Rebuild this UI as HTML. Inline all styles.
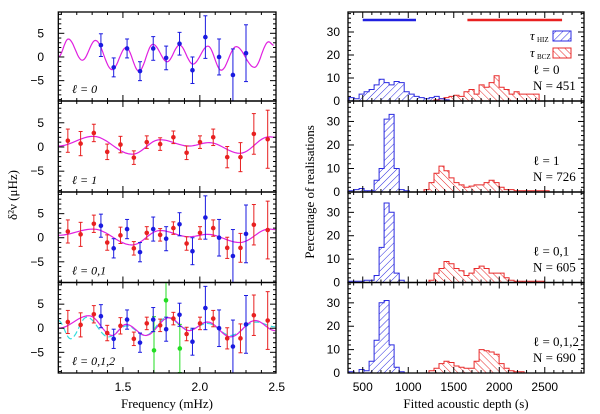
<!DOCTYPE html>
<html><head><meta charset="utf-8"><style>
body{margin:0;background:#fff}
svg{display:block}
text{font-family:"Liberation Serif",serif;fill:#000}
.n{font-family:"Liberation Sans",sans-serif;font-size:12px}
</style></head><body>
<svg id="c" width="600" height="414" viewBox="0 0 600 414">
<defs>
<pattern id="hb" width="5" height="5" patternUnits="userSpaceOnUse" patternTransform="rotate(45)"><line x1="0" y1="0" x2="0" y2="5" stroke="#2a2ae0" stroke-width="1"/></pattern>
<pattern id="hr" width="5" height="5" patternUnits="userSpaceOnUse" patternTransform="rotate(-45)"><line x1="0" y1="0" x2="0" y2="5" stroke="#e82a2a" stroke-width="1"/></pattern>
</defs>
</svg>
<script>
// ---------- data: left panels ----------
const blueFreq=[1.357,1.44,1.527,1.611,1.697,1.781,1.868,1.952,2.036,2.125,2.215,2.3];
const blueVal=[2.5,-2.2,1.8,-3,1.8,-0.2,2.8,-2.8,4.2,0,-3.8,0.8];
const blueErr=[2.4,2,2,2,2.5,2.5,2.4,2.8,4.5,3.8,5.5,6];
const redFreq=[1.142,1.225,1.311,1.398,1.484,1.571,1.655,1.742,1.828,1.914,2.001,2.087,2.178,2.264,2.351,2.441];
const redVal=[1.3,0.7,2.9,-1,0.5,-2.2,1,0.6,2,-1.2,1,2,-2.1,-2.1,2.7,1.6];
const redErr=[2.4,2.5,1.8,1.6,1.7,1.4,1.3,1.3,1.3,1.4,1.3,1.7,2.2,3,4.2,6];
const greenFreq=[1.702,1.78,1.87];
const greenVal=[-4.6,5.8,-4.2];
const greenErr=[7,6,5];
// fit curves: knots (frequency, value)
const fit0F=[1.08,1.145,1.236,1.322,1.43,1.521,1.604,1.695,1.788,1.868,1.955,2.053,2.139,2.236,2.355,2.447,2.48];
const fit0V=[0,3.8,-0.7,3.5,-2.7,2,-3,2.7,-1,2.5,-1.5,2.3,-2.8,2.2,-2.2,3.2,2.5];
const fit1F=[1.08,1.306,1.56,1.74,1.93,2.06,2.26,2.45,2.49];
const fit1V=[0.2,2.2,-1.5,1.5,0.2,0.9,-1.3,2.1,2.0];
const fit01F=[1.08,1.306,1.56,1.74,1.93,2.05,2.26,2.45,2.49];
const fit01V=[0.5,1.8,-1.5,1.5,0.2,0.7,-1.0,1.8,1.7];
const fit012F=[1.08,1.28,1.43,1.52,1.65,1.80,1.93,2.05,2.20,2.36,2.49];
const fit012V=[0,2.6,-1.5,0.8,-1.5,2.2,-0.5,1.3,-1.8,1.6,-0.5];
const cyanF=[1.08,1.16,1.265,1.406,1.525,1.645,1.786,1.93,2.05,2.20,2.365,2.49];
const cyanV=[1.6,-2.2,2.3,-1.8,0.5,-1.5,2.2,-0.3,1,-1.5,1.3,0.3];
const leftLabels=["\u2113 = 0","\u2113 = 1","\u2113 = 0,1","\u2113 = 0,1,2"];
const yTicksL=[-5,0,5];
const xTicksL=[1.5,2.0,2.5];
// ---------- data: right panels (histograms, 55 s bins) ----------
const binStart=350, binW=55;
const hizHist=[
 [1.5,1,3,4,5,7,9.5,8,7,8.5,8,4,3,2,1.5,1,1.5,2,1,0.5],
 [0.5,1,1.5,0.5,0.5,5,10,31,33,10,1,0.5],
 [0.5,0.5,0.5,1,1,3,15,34,30,4,1],
 [0.5,0,1.5,1,5,14,30,31,12,2.5,0.5]];
const bczStart=[1283,1173,1228,1228];
const bczHist=[
 [0.5,1,1.5,2,2.5,2,4,5,3,7,6,8,11,6,5,3,4,3,3,3,3,0],
 [1,4,8,11,9,6,4,3,2,2.5,3,3,4,5,4,2,1,1,0.5,0.5,0.5,0.5,0.5,0.5,0.5],
 [1,4,6,9,8,6,5,3,4,6,7,6,4,4,4,2,1,0.5,0.5,0.5,0.5,0.5,0.5],
 [1,2,4,5,4.5,3,2.5,2,2,5,10,9.5,9,8,4,2,1,0.5,0.5]];
const rightL=["\u2113 = 0","\u2113 = 1","\u2113 = 0,1","\u2113 = 0,1,2"];
const rightN=["N = 451","N = 726","N = 605","N = 690"];
const yTicksR=[0,10,20,30];
const xTicksR=[500,1000,1500,2000,2500];
const hizRange=[500,1085], bczRange=[1650,2690];

const svg=document.getElementById('c');
const NS='http://www.w3.org/2000/svg';
function mk(t,a,p){const e=document.createElementNS(NS,t);for(const k in a)e.setAttribute(k,a[k]);(p||svg).appendChild(e);return e;}
const tops=[12,101,192,282.5,373];
// left axes
const LX0=58.3,LX1=276,FMIN=1.08,FMAX=2.495,VMIN=-9.3,VMAX=9.5;
const fx=f=>LX0+(f-FMIN)/(FMAX-FMIN)*(LX1-LX0);
function fy(p){const t=tops[p],b=tops[p+1];return v=>b-(v-VMIN)/(VMAX-VMIN)*(b-t);}
function curve(F,V,p,col,dash,name){
 const y=fy(p);let d='';
 for(let i=0;i<F.length-1;i++){for(let k=0;k<=12;k++){const s=k/12,w=(1-Math.cos(Math.PI*s))/2;const f=F[i]+(F[i+1]-F[i])*s,v=V[i]+(V[i+1]-V[i])*w;d+=(d?'L':'M')+fx(f).toFixed(1)+','+y(v).toFixed(1);}}
 const e=mk('path',{d:d,fill:'none',stroke:col,'stroke-width':1.2,'stroke-dasharray':dash||'none'});
 
 
}
function pts(F,V,E,p,col,name){
 const y=fy(p);const g=mk('g',{});
 
 
 const t=tops[p],b=tops[p+1];
 F.forEach((f,i)=>{const x=fx(f);const y1=Math.max(t,y(V[i]+E[i])),y2=Math.min(b,y(V[i]-E[i]));
  mk('line',{x1:x,x2:x,y1:y1,y2:y2,stroke:col,'stroke-width':1},g);
  if(y(V[i]+E[i])>t)mk('line',{x1:x-2,x2:x+2,y1:y1,y2:y1,stroke:col},g);
  if(y(V[i]-E[i])<b)mk('line',{x1:x-2,x2:x+2,y1:y2,y2:y2,stroke:col},g);
  mk('circle',{cx:x,cy:y(V[i]),r:2.3,fill:col},g);});
}
function frame(x0,x1,p,xt,xmin,xmax,minorX,yt,ymin,ymax,minorY,name,ylabX,showX){
 const t=tops[p],b=tops[p+1];
 const r=mk('rect',{x:x0,y:t,width:x1-x0,height:b-t,fill:'none',stroke:'#000','stroke-width':1.3});
 
 
 const X=v=>x0+(v-xmin)/(xmax-xmin)*(x1-x0),Y=v=>b-(v-ymin)/(ymax-ymin)*(b-t);
 for(let v=Math.ceil(xmin/minorX-1e-9)*minorX;v<=xmax+1e-9;v+=minorX){const maj=xt.some(q=>Math.abs(q-v)<1e-6);const L=maj?6:3;const x=X(v);mk('line',{x1:x,x2:x,y1:b,y2:b-L,stroke:'#000'});mk('line',{x1:x,x2:x,y1:t,y2:t+L,stroke:'#000'});}
 for(let v=Math.ceil(ymin/minorY-1e-9)*minorY;v<=ymax+1e-9;v+=minorY){const maj=yt.some(q=>Math.abs(q-v)<1e-6);const L=maj?6:3;const y=Y(v);mk('line',{x1:x0,x2:x0+L,y1:y,y2:y,stroke:'#000'});mk('line',{x1:x1,x2:x1-L,y1:y,y2:y,stroke:'#000'});}
 yt.forEach(v=>{const e=mk('text',{x:ylabX,y:Y(v)+4,'text-anchor':'end',class:'n'});e.textContent=v<0?'\u2212'+(-v):v;
  
  });
 if(showX)xt.forEach(v=>{const e=mk('text',{x:X(v),y:b+18,'text-anchor':'middle',class:'n'});e.textContent=xmin<100?v.toFixed(1):v;
  
  });
}
const ptsSets=[[0],[1],[0,1],[0,1,2]];
const fits=[[fit0F,fit0V],[fit1F,fit1V],[fit01F,fit01V],[fit012F,fit012V]];
for(let p=0;p<4;p++){
 if(p==3)curve(cyanF,cyanV,3,'#33dddd','6,3','cyan-fit-curve');
 curve(fits[p][0],fits[p][1],p,'#e020e0',null,'fit-curve-'+p);
 if(ptsSets[p].includes(2))pts(greenFreq,greenVal,greenErr,p,'#22dd22','l2-points');
 if(ptsSets[p].includes(1))pts(redFreq,redVal,redErr,p,'#e82020','l1-points');
 if(ptsSets[p].includes(0))pts(blueFreq,blueVal,blueErr,p,'#1a1ae0','l0-points');
 frame(LX0,LX1,p,xTicksL,FMIN,FMAX,0.1,yTicksL,VMIN,VMAX,1,'left-panel-'+p,44,p==3);
 const e=mk('text',{x:72,y:tops[p+1]-8,'font-size':12,'font-style':'italic'});e.textContent=leftLabels[p];
 
 
}
// right
const RX0=348,RX1=584,SMIN=338,SMAX=2931,PMAX=38.7;
const sx=v=>RX0+(v-SMIN)/(SMAX-SMIN)*(RX1-RX0);
function hist(arr,start,p,fill,col,name){
 const t=tops[p],b=tops[p+1];const y=v=>b-v/PMAX*(b-t);
 let d='M'+sx(start)+','+b;
 arr.forEach((v,i)=>{d+='L'+sx(start+i*binW).toFixed(1)+','+y(v).toFixed(1)+'L'+sx(start+(i+1)*binW).toFixed(1)+','+y(v).toFixed(1);});
 d+='L'+sx(start+arr.length*binW).toFixed(1)+','+b+'Z';
 const e=mk('path',{d:d,fill:fill,stroke:col,'stroke-width':1});
 
 
}
for(let p=0;p<4;p++){
 hist(bczHist[p],bczStart[p],p,'url(#hr)','#e82a2a','bcz-histogram-'+p);
 hist(hizHist[p],binStart,p,'url(#hb)','#2a2ae0','hiz-histogram-'+p);
 frame(RX0,RX1,p,xTicksR,SMIN,SMAX,100,yTicksR,0,PMAX,2,'right-panel-'+p,340,p==3);
 const a=mk('text',{x:533,y:tops[p+1]-27,'font-size':13});a.textContent=rightL[p];
 
 
 const n=mk('text',{x:533,y:tops[p+1]-11,'font-size':13});n.textContent=rightN[p];
 
 
}
let e=mk('line',{x1:sx(hizRange[0]),x2:sx(hizRange[1]),y1:20,y2:20,stroke:'#2020e0','stroke-width':2.5});


e=mk('line',{x1:sx(bczRange[0]),x2:sx(bczRange[1]),y1:20,y2:20,stroke:'#e82020','stroke-width':2.5});


// legend
[['HIZ','url(#hb)','#2a2ae0',36],['BCZ','url(#hr)','#e82a2a',53]].forEach(q=>{
 const g=mk('g',{});
 
 
 const t=mk('text',{x:530,y:q[3]+4,'font-size':13,'font-style':'italic'},g);t.textContent='\u03c4';
 const s=mk('text',{x:537,y:q[3]+6,'font-size':7},g);s.textContent=q[0];
 mk('rect',{x:553,y:q[3]-5,width:18,height:10,fill:q[1],stroke:q[2]},g);
});
// axis titles
e=mk('text',{x:167,y:408,'text-anchor':'middle','font-size':13});e.textContent='Frequency (mHz)';


e=mk('text',{x:466,y:408,'text-anchor':'middle','font-size':13});e.textContent='Fitted acoustic depth (s)';


e=mk('text',{x:0,y:0,'text-anchor':'middle','font-size':13,transform:'translate(17,195) rotate(-90)'});e.textContent='\u03b4\u00b2\u03bd (\u03bcHz)';


e=mk('text',{x:0,y:0,'text-anchor':'middle','font-size':13,transform:'translate(314,192) rotate(-90)'});e.textContent='Percentage of realisations';


</script>
</body></html>
